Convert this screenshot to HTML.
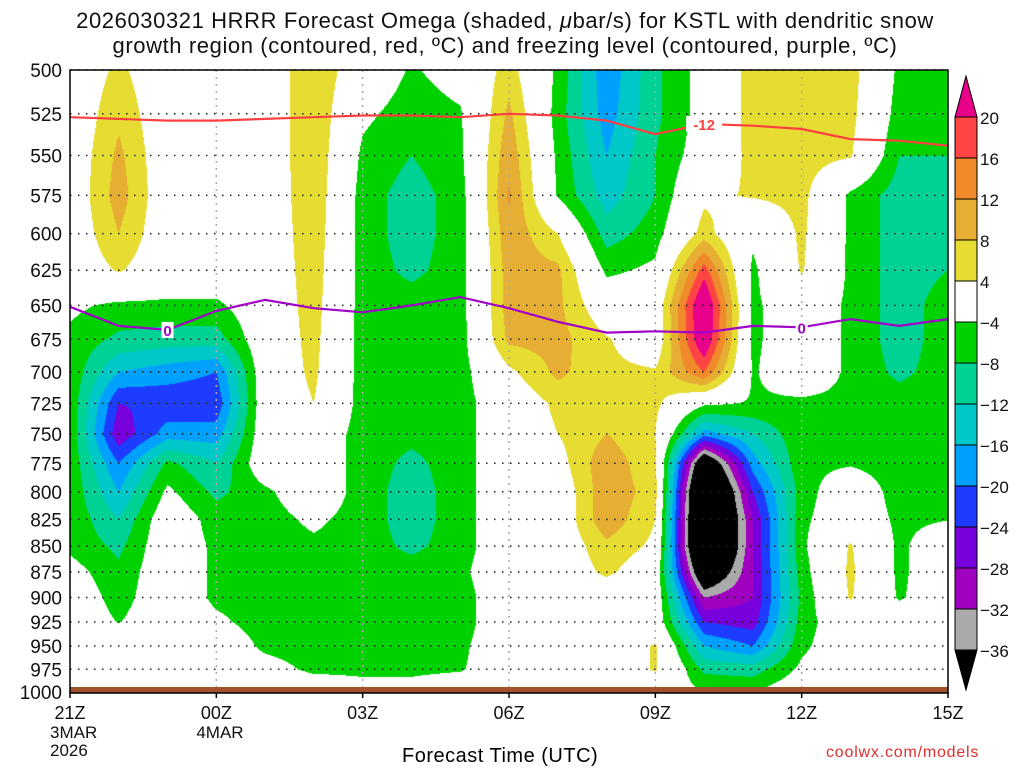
<!DOCTYPE html>
<html><head><meta charset="utf-8"><style>
body{margin:0;background:#fff;width:1024px;height:768px;overflow:hidden;position:relative;font-family:"Liberation Sans",sans-serif;}
.t{position:absolute;white-space:nowrap;}
#title{left:0;width:1010px;text-align:center;top:8px;font-size:22px;line-height:25px;letter-spacing:0.6px;color:#111;}
canvas{position:absolute;left:70px;top:70px;}
svg{position:absolute;left:0;top:0;}
</style></head><body>
<div id="title" class="t">2026030321 HRRR Forecast Omega (shaded, <i>μ</i>bar/s) for KSTL with dendritic snow<br>growth region (contoured, red, ºC) and freezing level (contoured, purple, ºC)</div>
<canvas id="cv" width="878" height="622"></canvas>
<svg id="sv" width="1024" height="768"></svg>
<div class="t" style="left:402px;top:745px;font-size:20px;letter-spacing:0.5px">Forecast Time (UTC)</div>
<div class="t" style="left:826px;top:744px;font-size:16px;color:#e03030;letter-spacing:0.8px">coolwx.com/models</div>
<script>
const levels=[500,525,550,575,600,625,650,675,700,725,750,775,800,825,850,875,900,925,950,975,1000];
const hourTicks=["21Z","00Z","03Z","06Z","09Z","12Z","15Z"];
const dateTicks=[["3MAR","2026"],["4MAR"],[],[],[],[],[]];
const cbLabels=["20","16","12","8","4","-4","-8","-12","-16","-20","-24","-28","-32","-36"];
const cbColors=["#e8008a","#ff4444","#f08a2a","#e6ae32","#e6dc32","#ffffff","#00d200","#00d296","#00c8c8","#00a0ff","#1e3cff","#7800dc","#a000c0","#aaaaaa","#000000"];
const cbBounds=[20,16,12,8,4,-4,-8,-12,-16,-20,-24,-28,-32,-36];
// omega columns, one per forecast hour (21Z..15Z), levels 500..1000
const omega=[
[0,0,0,0,0,0,-3,-5,-5,-5,-5,-5,-5,-5,-5,-2,0,0,0,0,0],
[5,7,9,10,8,4.5,-5,-9,-16,-24,-27,-20,-16,-12,-9,-7,-6,-4.2,0,0,0],
[0,0,0,0,0,0,-5,-10,-18,-23,-18,-7,-3,0,0,0,0,0,0,0,0],
[0,0,0,0,0,0,-5,-10,-20,-23,-18,-12,-9,-6,-5,-5,-5,-3,0,0,0],
[0,0,0,0,0,0,0,0,0,0,0,0,-5,-6,-6,-6,-6,-6,-5,-2,0],
[7.9,7.9,7.8,7.5,7,6.5,6,5.5,5,4,0,0,0,-3,-5,-6,-6,-6,-6,-5,0],
[0,-3,-5,-6,-6,-6,-6,-6,-6,-6,-6,-6,-6,-6,-6,-6,-6,-6,-6,-5,-2],
[-4.5,-6,-8,-10,-10,-9,-6,-6,-6,-6,-7,-9,-10,-10,-9,-6,-6,-6,-6,-5,-2],
[-2,-4.5,-5,-6,-6,-6,-6,-6,-6,-6,-6,-6,-6,-6,-6,-5,-6,-6,-5,-4.5,0],
[6,9,11,12.5,11,10,10,9,3,0,0,0,0,0,0,0,0,0,0,0,0],
[-5,-6,-5,-4.5,4,9,9,9.5,9,5,4,2,0,0,0,0,0,0,0,0,0],
[-19,-18,-16,-14,-10,-5,0,4.5,5,6,8,11,11,11,7,5,0,0,0,0,0],
[-9,-9,-8,-8,-6,-3,0,0,4.5,5,4,4.5,6,4,3,0,0,0,4.5,4.5,0],
[-2,-2,-1,3,6,18,26,25,16,-3,-18,-45,-55,-55,-55,-45,-32,-24,-16,-9,-4],
[6,6,5.5,4.5,-3,-5,-5,-5,-4.5,-4.5,-12,-18,-24,-28,-28,-28,-28,-26,-20,-10,-4],
[6,6,6,5.5,5,4.5,0,0,0,-5,-5,-5,-6,-5,-5,-6,-7,-6,-5,-3,0],
[6,5.5,4.5,-5,-5,-5,-5,-5,-5,-5,-5,-4.5,0,0,4.5,5,4.5,0,0,0,0],
[-5,-6,-8,-10,-10,-10,-10,-10,-9,-6,-6,-6,-6,-5,-5,-5,-4.6,0,0,0,0],
[-5,-6,-8,-10,-9,-8,-6,-6,-6,-5,-5,-4,-5,-4.2,0,0,0,0,0,0,0]
];
const dgzMinus12=[527,528,529,529,528,527,526,526,527,525,526,529,537,531,532,534,540,541,544];
const freezing0=[651,665,668,654,646,652,655,650,644,652,662,670,669,670,665,666,660,665,660];

const X0=70,X1=948,Y0=70,Y1=692,NH=18;
const xOf=h=>X0+h*(X1-X0)/NH;
const yOf=p=>Y0+Math.log(p/500)/Math.log(2)*(Y1-Y0);
const pOf=y=>500*Math.pow(2,(y-Y0)/(Y1-Y0));
function hex(c){return [parseInt(c.substr(1,2),16),parseInt(c.substr(3,2),16),parseInt(c.substr(5,2),16)];}
const rgb=cbColors.map(hex);
function idx(v){for(let i=0;i<cbBounds.length;i++){if(v>=cbBounds[i])return i;}return cbColors.length-1;}

const cv=document.getElementById('cv'),ctx=cv.getContext('2d');
const W=cv.width,H=cv.height,img=ctx.createImageData(W,H);
for(let py=0;py<H;py++){
  const p=pOf(Y0+py+0.5);let li=(p-500)/25;if(li>19.999)li=19.999;if(li<0)li=0;
  const l0=Math.floor(li),fl=li-l0;
  for(let px=0;px<W;px++){
    let hi=(px+0.5)/(W/NH);if(hi>17.999)hi=17.999;
    const h0=Math.floor(hi),fh=hi-h0;
    const v=(omega[h0][l0]*(1-fh)+omega[h0+1][l0]*fh)*(1-fl)+(omega[h0][l0+1]*(1-fh)+omega[h0+1][l0+1]*fh)*fl;
    const c=rgb[idx(v)],o=(py*W+px)*4;
    img.data[o]=c[0];img.data[o+1]=c[1];img.data[o+2]=c[2];img.data[o+3]=255;
  }
}
ctx.putImageData(img,0,0);

const sv=document.getElementById('sv'),NS='http://www.w3.org/2000/svg';
function mk(tag,attrs,parent){const e=document.createElementNS(NS,tag);for(const k in attrs)e.setAttribute(k,attrs[k]);(parent||sv).appendChild(e);return e;}
levels.forEach((p,i)=>{
  const g=mk('line',{x1:X0,x2:X1,y1:yOf(p),y2:yOf(p),stroke:'#222','stroke-width':1.5,'stroke-dasharray':'1.5 6.5'});
  
  
  const t=mk('text',{x:62,y:yOf(p)+7,'text-anchor':'end','font-size':19,fill:'#111','font-family':'Liberation Sans'});
  t.textContent=p;
  
  
});
hourTicks.forEach((lab,i)=>{
  const x=xOf(i*3);
  if(i>0&&i<hourTicks.length-1){
    const g=mk('line',{x1:x,x2:x,y1:Y0,y2:Y1,stroke:'#aaa','stroke-width':1.5,'stroke-dasharray':'2 5'});
    
    
  }
  const tk=mk('line',{x1:x,x2:x,y1:Y1,y2:Y1+6,stroke:'#000','stroke-width':1.5});
  
  
  const t=mk('text',{x:x,y:719,'text-anchor':'middle','font-size':18,fill:'#111','font-family':'Liberation Sans'});
  t.textContent=lab;
  
  
  dateTicks[i].forEach((d,j)=>{
    const dt=mk('text',{x:x-20,y:738+j*18,'font-size':17,fill:'#111','font-family':'Liberation Sans'});
    dt.textContent=d;
    
    
  });
});
const gs=mk('rect',{x:X0,y:687,width:X1-X0,height:6,fill:'#a0522d'});


function line(arr,color,name){
  let d='';arr.forEach((p,h)=>{d+=(h?'L':'M')+xOf(h).toFixed(1)+','+yOf(p).toFixed(1);});
  const e=mk('path',{d:d,fill:'none',stroke:color,'stroke-width':2.2});
  
  
}
line(dgzMinus12,'#ff4040','dgz-minus12-line');
line(freezing0,'#a000c8','freezing-level-line');
function lab(h,arr,txt,color,name){
  const x=xOf(h),y=yOf(arr[Math.round(h)]);
  const r=mk('rect',{x:x-txt.length*6,y:y-8,width:txt.length*12,height:16,fill:'#fff'});
  
  
  const t=mk('text',{x:x,y:y+6,'text-anchor':'middle','font-size':15,'font-weight':'bold',fill:color,'font-family':'Liberation Sans'});
  t.textContent=txt;
  
  
}
lab(13,dgzMinus12,'-12','#ff4040','dgz-label');
lab(2,freezing0,'0','#a000c8','freezing-label-1');
lab(15,freezing0,'0','#a000c8','freezing-label-2');
const bd=mk('rect',{x:X0,y:Y0,width:X1-X0,height:Y1-Y0+1,fill:'none',stroke:'#000','stroke-width':1.5});


const CX=955,CW=22,CT=117,STEP=(650-117)/13;
const tri1=mk('polygon',{points:`${CX},${CT} ${CX+CW},${CT} ${CX+CW/2},76`,fill:cbColors[0],stroke:'#000'});


for(let i=1;i<cbColors.length-1;i++){
  const r=mk('rect',{x:CX,y:CT+(i-1)*STEP,width:CW,height:STEP,fill:cbColors[i],stroke:'#000','stroke-width':1});
  
  
}
const tri2=mk('polygon',{points:`${CX},650 ${CX+CW},650 ${CX+CW/2},690`,fill:'#000',stroke:'#000'});


cbLabels.forEach((l,i)=>{
  const t=mk('text',{x:980,y:CT+i*STEP+7,'font-size':17,fill:'#111','font-family':'Liberation Sans'});
  t.textContent=l.replace('-','−');
  
  
});
</script>
</body></html>
